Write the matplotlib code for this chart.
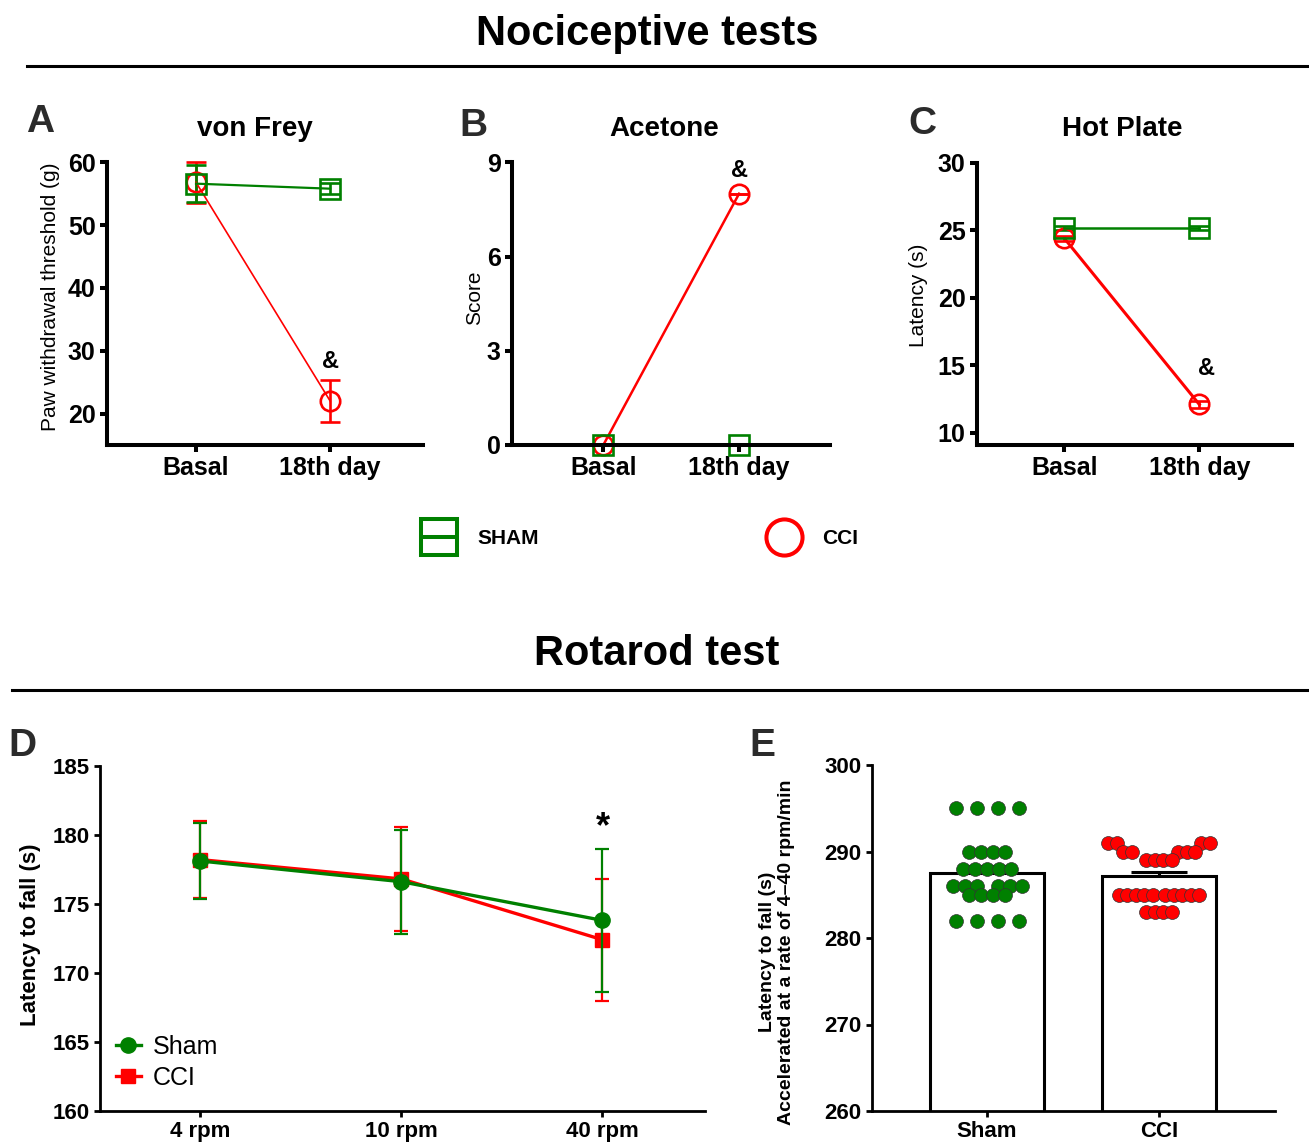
import numpy as np
import matplotlib
matplotlib.use("Agg")
import matplotlib.pyplot as plt
from matplotlib.lines import Line2D

plt.rcParams['font.family'] = ['Liberation Sans', 'DejaVu Sans']
plt.rcParams['font.weight'] = 'bold'

W, H = 1309, 1145
GREEN = '#008000'
RED = '#ff0000'

# ---- data: nociceptive tests (mean, SEM) ----
timepoints = ['Basal', '18th day']
vf_sham = [56.6, 55.8]
vf_sham_sem = [2.9, 0.9]
vf_cci = [56.8, 22.0]
vf_cci_sem = [3.3, 3.4]

ac_sham = [0.0, 0.0]
ac_sham_sem = [0.0, 0.0]
ac_cci = [0.0, 8.0]
ac_cci_sem = [0.0, 0.0]

hp_sham = [25.2, 25.2]
hp_sham_sem = [0.15, 0.15]
hp_cci = [24.4, 12.1]
hp_cci_sem = [0.2, 0.25]

# ---- data: rotarod fixed speed (mean, SEM) ----
speeds = ['4 rpm', '10 rpm', '40 rpm']
rr_sham = [178.1, 176.6, 173.8]
rr_sham_sem = [2.75, 3.75, 5.15]
rr_cci = [178.2, 176.8, 172.4]
rr_cci_sem = [2.8, 3.75, 4.4]

# ---- data: accelerated rotarod, individual animals ----
groups = ['Sham', 'CCI']
acc_sham = [295, 295, 295, 295, 290, 290, 290, 290, 288, 288, 288, 288, 288,
            286, 286, 286, 286, 286, 286, 285, 285, 285, 285, 282, 282, 282, 282]
acc_cci = [291, 291, 291, 291, 290, 290, 290, 290, 290, 289, 289, 289, 289,
           285, 285, 285, 285, 285, 285, 285, 285, 285, 285, 283, 283, 283, 283]

fig = plt.figure(figsize=(W / 100, H / 100), dpi=100)


def add_ax(x0, x1, ytop, ybot):
    return fig.add_axes([x0 / W, 1 - ybot / H, (x1 - x0) / W, (ybot - ytop) / H])


def ftext(x, y, s, **kw):
    return fig.text(x / W, 1 - y / H, s, **kw)


def style(ax, lw, ticklen, fs):
    for s in ['top', 'right']:
        ax.spines[s].set_visible(False)
    for s in ['left', 'bottom']:
        ax.spines[s].set_linewidth(lw)
    ax.tick_params(width=lw, length=ticklen, labelsize=fs, pad=3)


def noclip(container):
    for art in container.get_children():
        art.set_clip_on(False)


def pain_panel(ax, sham, sham_sem, cci, cci_sem, lw_s, lw_c):
    x = np.arange(len(timepoints))
    eb = ax.errorbar(x, cci, yerr=cci_sem, color=RED, lw=lw_c, marker='o', ms=14,
                     mfc='none', mew=1.9, capsize=7, capthick=1.9, elinewidth=1.9)
    noclip(eb)
    eb = ax.errorbar(x, sham, yerr=sham_sem, color=GREEN, lw=lw_s, marker='s', ms=14,
                     mfc='none', mew=1.9, capsize=7, capthick=1.9, elinewidth=1.9)
    noclip(eb)
    ax.set_xticks(x)
    ax.set_xticklabels(timepoints)
    style(ax, 2.9, 5, 18)


# ---- header lines / titles ----
ftext(647, 45, 'Nociceptive tests', fontsize=30, ha='center', va='baseline')
fig.add_artist(Line2D([27 / W, 1], [1 - 66 / H] * 2, color='black', lw=2.2))
ftext(657, 665, 'Rotarod test', fontsize=30, ha='center', va='baseline')
fig.add_artist(Line2D([12 / W, 1], [1 - 690 / H] * 2, color='black', lw=2.2))

# ---- A: von Frey ----
axA = add_ax(106.7, 422.7, 162.3, 445)
axA.set_xlim(-0.666, 1.69)
axA.set_ylim(15, 60)
axA.set_yticks([20, 30, 40, 50, 60])
pain_panel(axA, vf_sham, vf_sham_sem, vf_cci, vf_cci_sem, 1.6, 1.2)
axA.set_ylabel('Paw withdrawal threshold (g)', fontsize=15, fontweight='normal')
axA.yaxis.set_label_coords(-0.148, 0.523)
axA.text(1, 28.3, '&', fontsize=17, ha='center', va='center')

# ---- B: Acetone ----
axB = add_ax(511.7, 830, 162.3, 445)
axB.set_xlim(-0.675, 1.67)
axB.set_ylim(0, 9)
axB.set_yticks([0, 3, 6, 9])
pain_panel(axB, ac_sham, ac_sham_sem, ac_cci, ac_cci_sem, 2.0, 1.8)
axB.set_ylabel('Score', fontsize=15, fontweight='normal')
axB.yaxis.set_label_coords(-0.087, 0.52)
axB.text(1, 8.75, '&', fontsize=17, ha='center', va='center')

# ---- C: Hot plate ----
axC = add_ax(976.7, 1291.7, 162.7, 445)
axC.set_xlim(-0.649, 1.684)
axC.set_ylim(9.1, 30)
axC.set_yticks([10, 15, 20, 25, 30])
pain_panel(axC, hp_sham, hp_sham_sem, hp_cci, hp_cci_sem, 1.8, 2.2)
axC.set_ylabel('Latency (s)', fontsize=15, fontweight='normal')
axC.yaxis.set_label_coords(-0.155, 0.531)
axC.text(1.05, 14.8, '&', fontsize=17, ha='center', va='center')

for x, y, s in [(40.5, 132, 'A'), (473, 136, 'B'), (922, 134, 'C')]:
    ftext(x, y, s, fontsize=28, ha='center', va='baseline', color='#2b2b2b')
for x, s in [(255, 'von Frey'), (664, 'Acetone'), (1122, 'Hot Plate')]:
    ftext(x, 136, s, fontsize=20, ha='center', va='baseline')

# legend for A-C
sq = Line2D([], [], marker='s', ms=26, mfc='none', mec=GREEN, mew=2.9, ls='none')
bar = Line2D([], [], marker='_', ms=26, mec=GREEN, mew=2.9, ls='none')
circ = Line2D([], [], marker='o', ms=26, mfc='none', mec=RED, mew=2.9, ls='none')
fig.legend(handles=[(sq, bar), circ], labels=['SHAM', 'CCI'], loc='center',
           bbox_to_anchor=(640 / W, 1 - 539 / H), ncol=2, frameon=False,
           prop={'size': 15, 'weight': 'bold'}, columnspacing=10.9,
           handletextpad=1.0, handlelength=1.7)

# ---- D: rotarod fixed speeds ----
axD = add_ax(100, 705, 765.7, 1111)
xd = np.arange(len(speeds))
axD.errorbar(xd, rr_cci, yerr=rr_cci_sem, fmt='none', ecolor=RED, elinewidth=1.6,
             capsize=5, capthick=1.6)
l_cci, = axD.plot(xd, rr_cci, color=RED, lw=2.4, marker='s', ms=10.5)
axD.errorbar(xd, rr_sham, yerr=rr_sham_sem, fmt='none', ecolor=GREEN, elinewidth=1.6,
             capsize=5, capthick=1.6)
l_sham, = axD.plot(xd, rr_sham, color=GREEN, lw=2.4, marker='o', ms=11)
axD.set_xlim(-0.5, 2.51)
axD.set_ylim(160, 185)
axD.set_yticks(np.arange(160, 186, 5))
axD.set_xticks(xd)
axD.set_xticklabels(speeds)
style(axD, 2.0, 4.5, 16)
axD.set_ylabel('Latency to fall (s)', fontsize=16, fontweight='bold')
axD.yaxis.set_label_coords(-0.0975, 0.51)
axD.text(2, 180.5, '*', fontsize=26, ha='center', va='center')
axD.legend(handles=[l_sham, l_cci], labels=['Sham', 'CCI'], loc='lower left',
           bbox_to_anchor=(-0.0115, -0.005), frameon=False,
           prop={'size': 18, 'weight': 'normal'}, handlelength=1.0,
           handletextpad=0.5, labelspacing=0.3)
ftext(22, 756, 'D', fontsize=28, ha='center', va='baseline', color='#2b2b2b')

# ---- E: accelerated rotarod ----
axE = add_ax(872, 1275, 765, 1111)
axE.set_xlim(-0.669, 1.674)
axE.set_ylim(260, 300)
axE.set_yticks(np.arange(260, 301, 10))
xe = np.arange(len(groups))
means = [np.mean(acc_sham), np.mean(acc_cci)]
sems = [np.std(acc_sham, ddof=1) / np.sqrt(len(acc_sham)),
        np.std(acc_cci, ddof=1) / np.sqrt(len(acc_cci))]
axE.bar(xe, means, width=0.66, color='white', edgecolor='black', linewidth=2.2, zorder=2)
axE.errorbar(xe, means, yerr=[[0, 0], sems], fmt='none', ecolor='black',
             elinewidth=2.2, capsize=20, capthick=2.2, zorder=1.9)


def swarm(ax, vals, step_px, rx, ry, wide_px):
    # row-wise beeswarm in pixel space, elliptical clearance rx x ry
    vals = np.asarray(vals, dtype=float)
    xpx = ax.transData.transform([[1, 0]])[0, 0] - ax.transData.transform([[0, 0]])[0, 0]
    ypx = lambda v: ax.transData.transform([[0, v]])[0, 1]
    levels = np.unique(vals)
    placed = []
    offs = {}
    for v in levels:
        n = int(np.sum(vals == v))
        y = ypx(v)
        others = levels[levels != v]
        isolated = len(others) == 0 or np.min(np.abs(others - v)) > 2.5
        step = wide_px if isolated else step_px
        base = (np.arange(n) - (n - 1) / 2) * step
        left = np.arange(n) < n // 2
        g = 0.0
        while True:
            xs = base + np.where(left, -g, g)
            hit = False
            for px, py in placed:
                dy = abs(y - py)
                if dy >= ry:
                    continue
                need = rx * np.sqrt(1 - (dy / ry) ** 2)
                if np.any(np.abs(xs - px) < need - 1e-6):
                    hit = True
                    break
            if not hit:
                break
            g += 0.25
        placed += [(xx, y) for xx in xs]
        offs[v] = list(xs / xpx)
    out = []
    for v in vals:
        out.append(offs[v].pop(0))
    return np.array(out)


for i, (vals, col, step, rx) in enumerate([(acc_sham, GREEN, 12, 5),
                                           (acc_cci, RED, 8.5, 7)]):
    dx = swarm(axE, vals, step, rx, 18, 21)
    axE.scatter(i + dx, vals, s=100, color=col, edgecolor='#333333', linewidth=0.5, zorder=3)

axE.set_xticks(xe)
axE.set_xticklabels(groups)
style(axE, 2.0, 4.5, 16)
axE.set_ylabel('Latency to fall (s)\nAccelerated at a rate of 4\u201340 rpm/min', fontsize=14,
               fontweight='bold', linespacing=1.15)
axE.yaxis.set_label_coords(-0.191, 0.46)
ftext(762, 756, 'E', fontsize=28, ha='center', va='baseline', color='#2b2b2b')

fig.savefig('out.png', dpi=100)
